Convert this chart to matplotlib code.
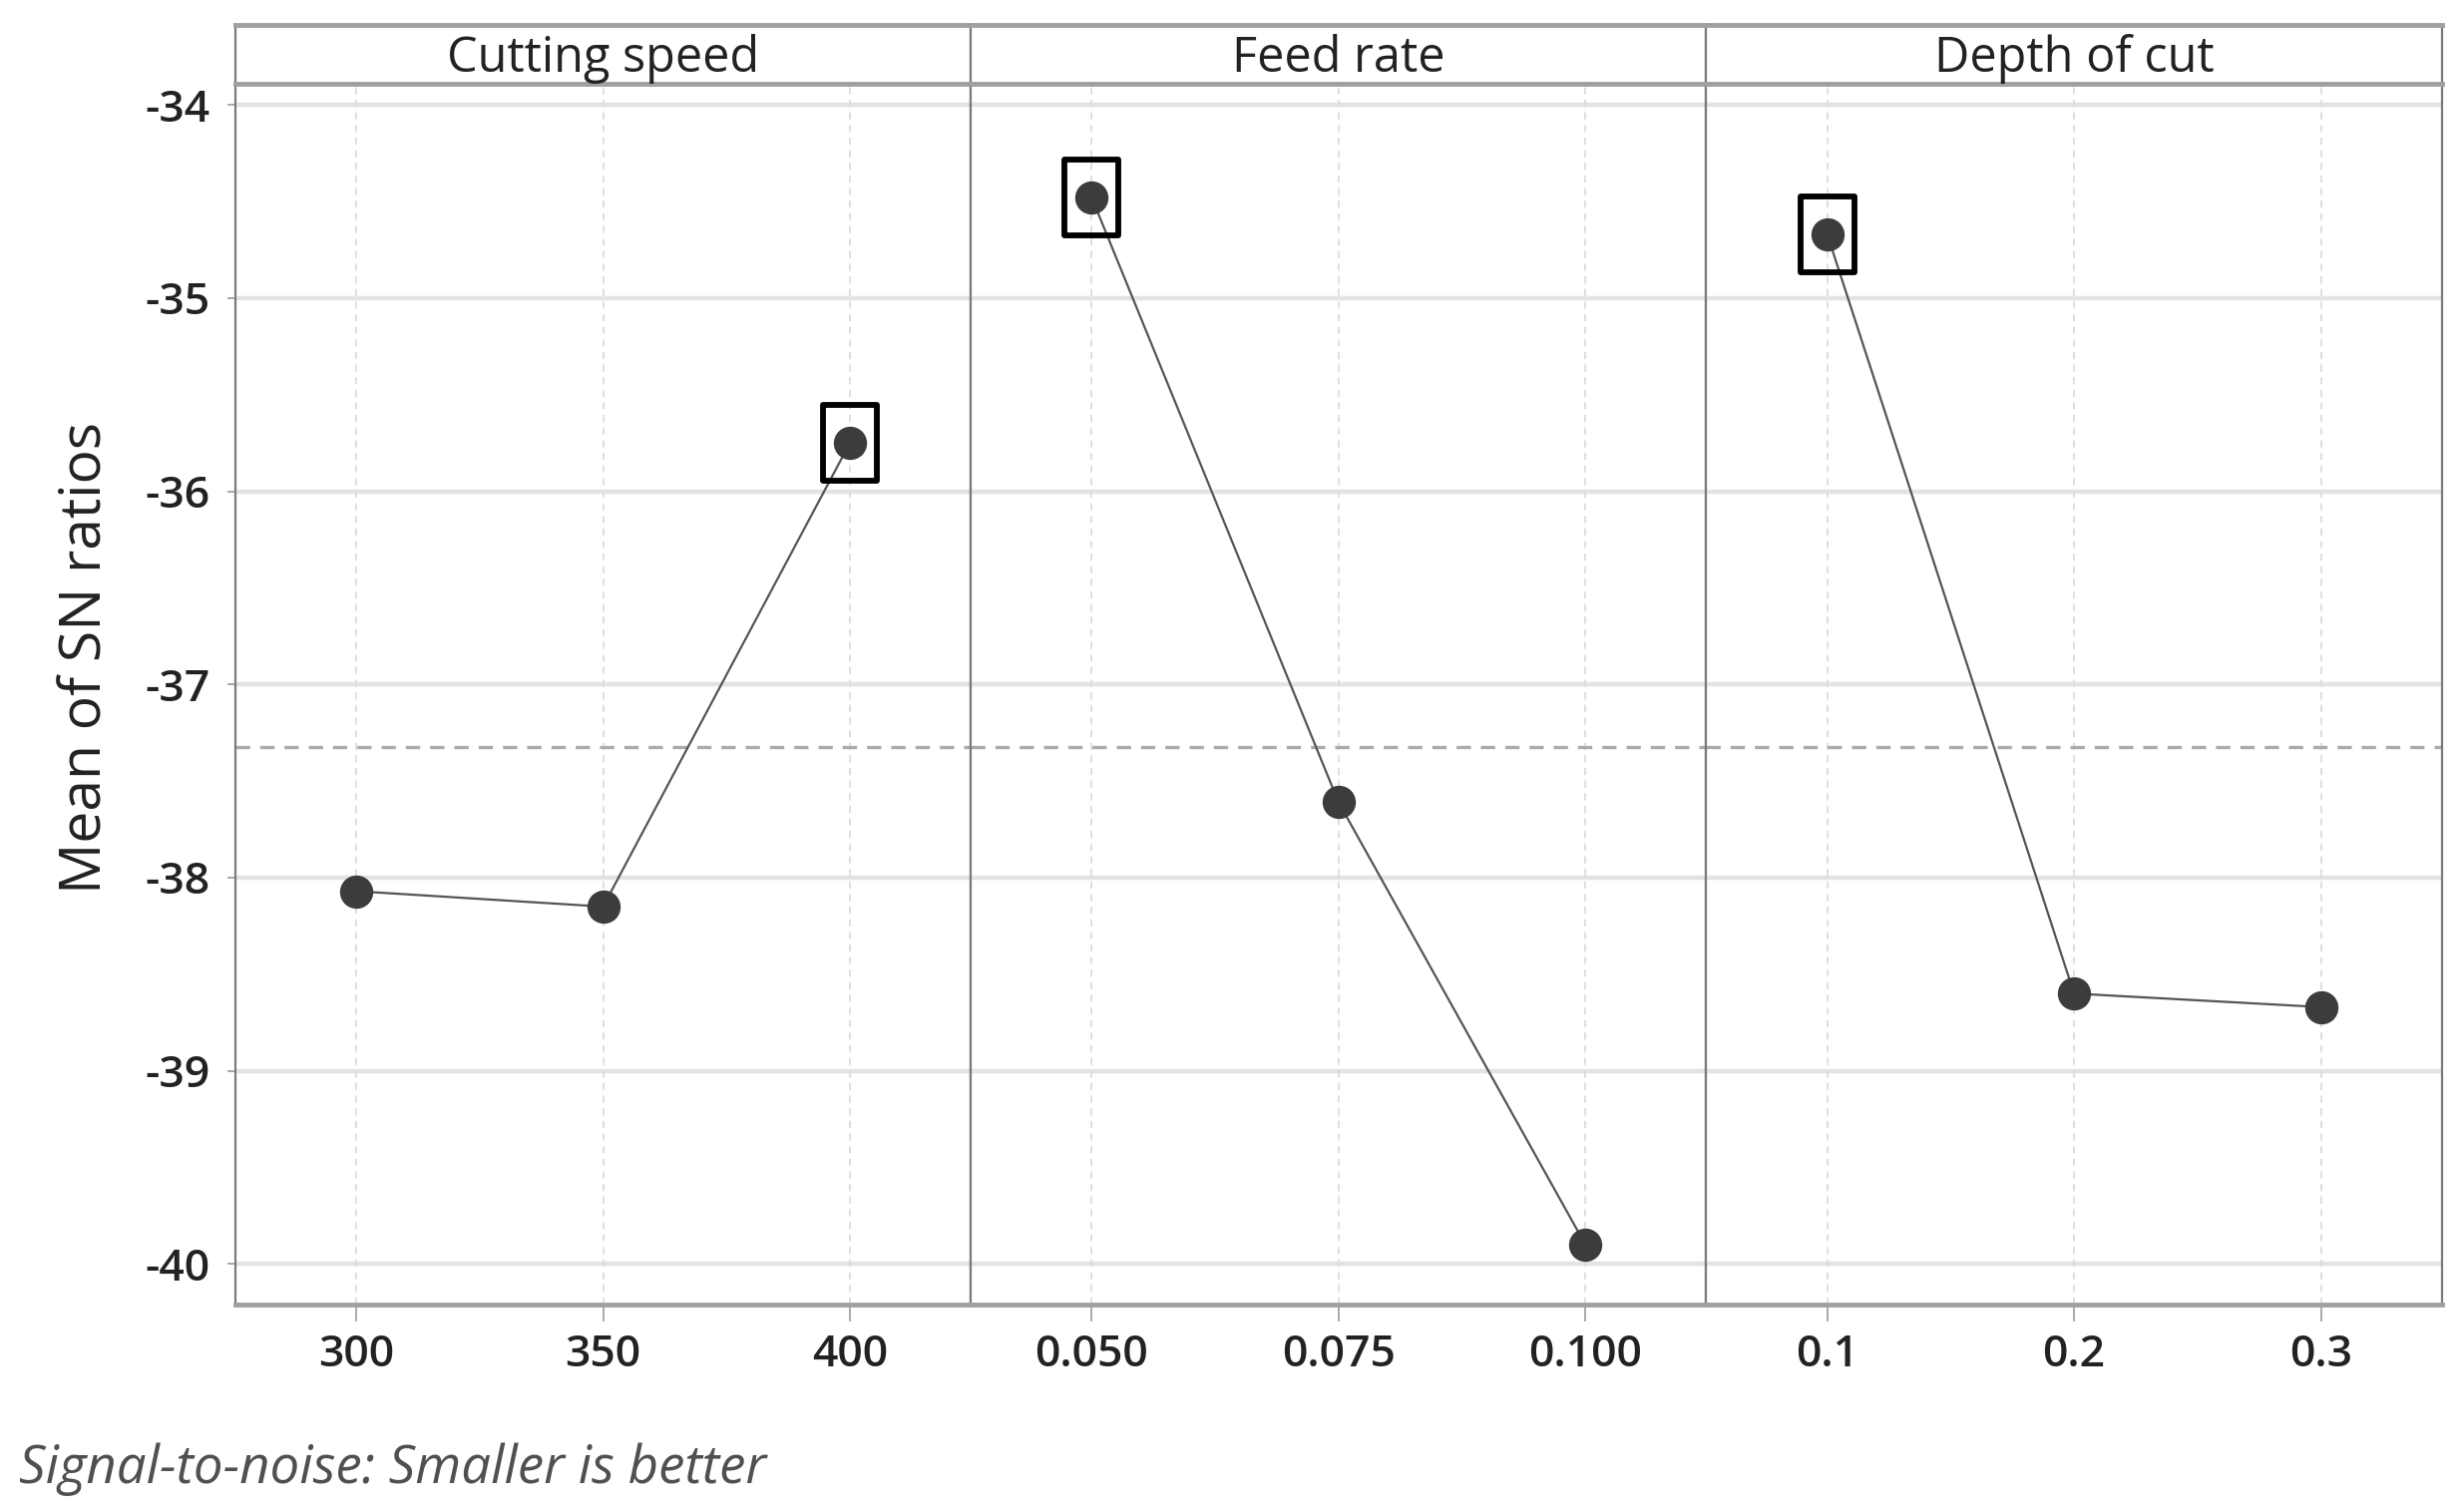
import matplotlib
matplotlib.use("Agg")
import matplotlib.pyplot as plt
from matplotlib.path import Path
import numpy as np

plt.rcParams['font.family'] = ['Open Sans', 'DejaVu Sans']
plt.rcParams['axes.unicode_minus'] = False

# Main effects plot for SN ratios
factors = ["Cutting speed", "Feed rate", "Depth of cut"]
levels = [["300", "350", "400"],
          ["0.050", "0.075", "0.100"],
          ["0.1", "0.2", "0.3"]]
sn_cutting_speed = [-38.07, -38.15, -35.75]
sn_feed_rate = [-34.48, -37.61, -39.90]
sn_depth_of_cut = [-34.67, -38.60, -38.67]
sn_means = [sn_cutting_speed, sn_feed_rate, sn_depth_of_cut]
best_level = [2, 0, 0]   # boxed level (largest SN ratio)
overall_mean = np.mean(sn_means)

yticks = [-34, -35, -36, -37, -38, -39, -40]

# rectangle marker for the boxed points
box_w = 0.36
box = Path([(-box_w, -0.5), (box_w, -0.5), (box_w, 0.5), (-box_w, 0.5), (-box_w, -0.5)],
           [Path.MOVETO, Path.LINETO, Path.LINETO, Path.LINETO, Path.CLOSEPOLY])

fig, axes = plt.subplots(1, 3, sharey=True, figsize=(24.7, 15.13), dpi=100)
fig.subplots_adjust(left=0.0955, right=0.991, bottom=0.1355, top=0.9445, wspace=0)

grid_col = "#e3e3e3"
txt_col = "#222222"

for i, ax in enumerate(axes):
    x = np.arange(len(levels[i]))
    ax.set_xlim(-0.49, 2.49)
    ax.set_ylim(-40.21, -33.89)
    ax.set_yticks(yticks)
    for yv in yticks:
        ax.axhline(yv, color=grid_col, lw=3.2, zorder=0)
    for xv in x:
        ax.axvline(xv, color="#dcdcdc", lw=1.3, ls=(0, (4, 3)), zorder=0)
    ax.axhline(overall_mean, color="#ababab", lw=2.4, dashes=(4.3, 3.0), zorder=1)
    ax.plot(x, sn_means[i], color="#555555", lw=1.6, zorder=2)
    ax.plot(x, sn_means[i], 'o', color="#3c3c3c", ms=23, mec="#3c3c3c", zorder=3)
    b = best_level[i]
    ax.plot(x[b], sn_means[i][b], marker=box, ms=55, mfc="none", mec="black", mew=4.2, zorder=4)

    ax.set_xticks(x)
    ax.set_xticklabels(levels[i], fontweight="semibold")
    ax.tick_params(axis='x', length=12, width=1.2, color="#999999", pad=9, labelsize=32, labelcolor=txt_col)
    ax.tick_params(axis='y', length=6, width=1.2, color="#999999", pad=12, labelsize=32, labelcolor=txt_col)
    for lab in ax.get_yticklabels():
        lab.set_fontweight("semibold")
    for s in ["left", "right"]:
        ax.spines[s].set_color("#7a7a7a")
        ax.spines[s].set_linewidth(1.6)
    ax.spines["bottom"].set_color("#a0a0a0")
    ax.spines["bottom"].set_linewidth(3.5)
    ax.spines["top"].set_visible(False)
    if i > 0:
        ax.tick_params(axis='y', left=False)

    # strip with factor name
    pos = ax.get_position()
    sax = fig.add_axes([pos.x0, 0.9445, pos.width, 0.039])
    sax.set_xticks([])
    sax.set_yticks([])
    for s in ["left", "right"]:
        sax.spines[s].set_color("#7a7a7a")
        sax.spines[s].set_linewidth(1.6)
    for s in ["top", "bottom"]:
        sax.spines[s].set_color("#a0a0a0")
        sax.spines[s].set_linewidth(3.5)
    sax.text(0.5, 0.42, factors[i], ha="center", va="center", fontsize=35, color=txt_col,
             fontweight="medium", transform=sax.transAxes)

axes[0].set_ylabel("Mean of SN ratios", fontsize=41, color=txt_col)
axes[0].yaxis.set_label_coords(-0.163, 0.53)

fig.text(0.0077, 0.026, "Signal-to-noise: Smaller is better", fontsize=38, style="italic",
         color="#505050", ha="left", va="center")

fig.savefig("out.png", dpi=100)
